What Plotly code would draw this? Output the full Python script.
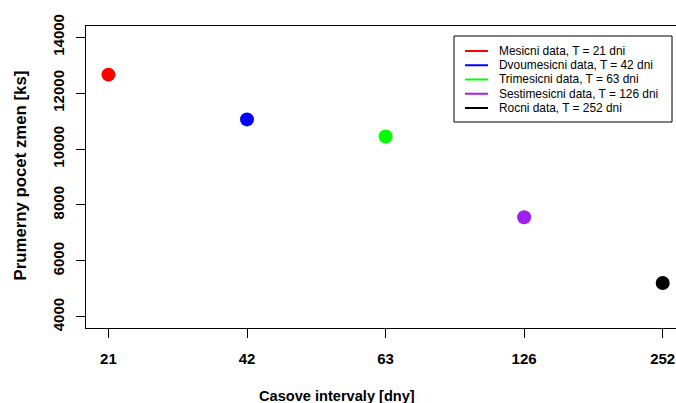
import plotly.graph_objects as go

categories = ["21", "42", "63", "126", "252"]
values = [12660, 11060, 10450, 7560, 5210]
colors = ["#FF0000", "#0000FF", "#00FF00", "#A020F0", "#000000"]
legend_labels = [
    "Mesicni data, T = 21 dni",
    "Dvoumesicni data, T = 42 dni",
    "Trimesicni data, T = 63 dni",
    "Sestimesicni data, T = 126 dni",
    "Rocni data, T = 252 dni",
]
y_ticks = [4000, 6000, 8000, 10000, 12000, 14000]

W, H = 676, 403
ML, MR, MT, MB = 86, 0, 26, 75
PW, PH = W - ML - MR, H - MT - MB
FONT = "Liberation Sans, Arial, sans-serif"


def px_x(p):
    return (p - ML) / PW


def px_y(p):
    return (H - MB - p) / PH


fig = go.Figure()
fig.add_trace(go.Scatter(
    x=categories, y=values, mode="markers",
    marker=dict(size=14, color=colors, line=dict(width=0)),
    showlegend=False, hoverinfo="x+y",
))

# legend drawn as a box in paper coordinates
shapes = [dict(type="rect", xref="paper", yref="paper",
               x0=px_x(454), x1=px_x(672), y0=px_y(122), y1=px_y(36),
               line=dict(color="black", width=1), fillcolor="white", layer="above")]
annotations = []
row0, row_step = 51, 14.25
for i, (lab, col) in enumerate(zip(legend_labels, colors)):
    ry = row0 + i * row_step
    shapes.append(dict(type="line", xref="paper", yref="paper",
                       x0=px_x(465), x1=px_x(488), y0=px_y(ry), y1=px_y(ry),
                       line=dict(color=col, width=2), layer="above"))
    annotations.append(dict(text=lab, xref="paper", yref="paper",
                            x=px_x(497), y=px_y(ry), xanchor="left", yanchor="middle",
                            showarrow=False, font=dict(size=11.9, family=FONT)))

annotations += [
    dict(text="<b>Casove intervaly [dny]</b>", xref="paper", yref="paper",
         x=px_x(337), y=px_y(395.5),
         xanchor="center", yanchor="middle", showarrow=False,
         font=dict(size=14.6, family=FONT)),
    dict(text="<b>Prumerny pocet zmen [ks]</b>", xref="paper", yref="paper",
         x=px_x(20), y=px_y(175.5), textangle=-90,
         xanchor="center", yanchor="middle", showarrow=False,
         font=dict(size=16.8, family=FONT)),
]

fig.update_layout(
    width=W, height=H,
    margin=dict(l=ML, r=MR, t=MT, b=MB, pad=0, autoexpand=False),
    paper_bgcolor="white", plot_bgcolor="white",
    font=dict(family=FONT, color="black"),
    showlegend=False,
    xaxis=dict(
        type="category", range=[-0.162, 4.096], automargin=False,
        showgrid=False, zeroline=False,
        showline=True, linecolor="black", linewidth=1, mirror=True,
        ticks="outside", ticklen=9, tickcolor="black",
        tickfont=dict(size=15, family=FONT, weight="bold"),
        ticklabelstandoff=8,
    ),
    yaxis=dict(
        range=[3600, 14400], tickvals=y_ticks, ticktext=[str(v) for v in y_ticks],
        automargin=False,
        showgrid=False, zeroline=False,
        showline=True, linecolor="black", linewidth=1, mirror=False,
        ticks="outside", ticklen=9, tickcolor="black",
        tickangle=-90,
        tickfont=dict(size=15, family=FONT, weight="bold"),
        ticklabelstandoff=6,
    ),
    shapes=shapes,
    annotations=annotations,
)

fig.write_html(
    "out.html",
    config={"displayModeBar": False},
    post_script="document.body.style.margin='0';document.body.style.overflow='hidden';",
)
